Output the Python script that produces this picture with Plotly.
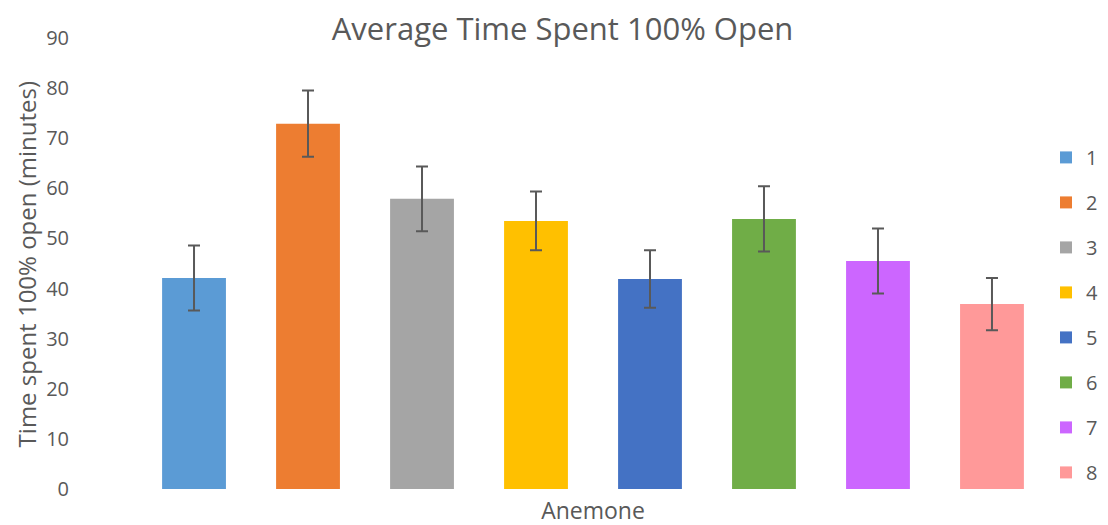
import plotly.graph_objects as go

categories = ["1", "2", "3", "4", "5", "6", "7", "8"]
means = [42.1, 72.9, 57.9, 53.5, 41.9, 53.9, 45.5, 36.9]
errors = [6.5, 6.6, 6.45, 5.85, 5.75, 6.5, 6.5, 5.2]
colors = ["#5B9BD5", "#ED7D31", "#A5A5A5", "#FFC000", "#4472C4", "#70AD47", "#CC66FF", "#FF9999"]
group_label = "Anemone"
y_title = "Time spent 100% open (minutes)"

TXT = "#595959"
FONT = "Open Sans"

fig = go.Figure()
for name, m, e, c in zip(categories, means, errors, colors):
    fig.add_trace(go.Bar(
        x=[group_label], y=[m], name=name, legendgroup=name,
        marker=dict(color=c, line=dict(width=0)),
        error_y=dict(type="data", array=[e], visible=True, color=TXT, thickness=2, width=6),
    ))

fig.add_annotation(text=y_title, textangle=-90, xref="paper", yref="paper", x=0, y=0.498,
                   xanchor="center", yanchor="middle", xshift=-100, showarrow=False,
                   font=dict(size=24, color=TXT, family=FONT))

fig.update_layout(
    width=1108, height=525,
    paper_bgcolor="white", plot_bgcolor="white",
    barmode="group", bargap=0.0236, bargroupgap=0.44,
    margin=dict(l=118, r=56, t=30, b=44),
    font=dict(family=FONT, color=TXT, size=20),
    title=dict(text="Average Time Spent 100% Open", x=0.5005, xanchor="center", y=0.96, yanchor="middle",
               font=dict(size=31, color=TXT, family=FONT)),
    xaxis=dict(showticklabels=False, showgrid=False, zeroline=False, showline=False,
               title=dict(text="Anemone", font=dict(size=23, color=TXT), standoff=13)),
    yaxis=dict(range=[0, 90], dtick=10, showgrid=False, zeroline=False, showline=False,
               tickfont=dict(size=20, color=TXT), ticklabelstandoff=56),
    legend=dict(x=0.985, xanchor="left", y=0.386, yanchor="middle", tracegroupgap=16,
                font=dict(size=20, color=TXT), bgcolor="rgba(0,0,0,0)"),
    showlegend=True,
)

fig.write_html("out.html")
